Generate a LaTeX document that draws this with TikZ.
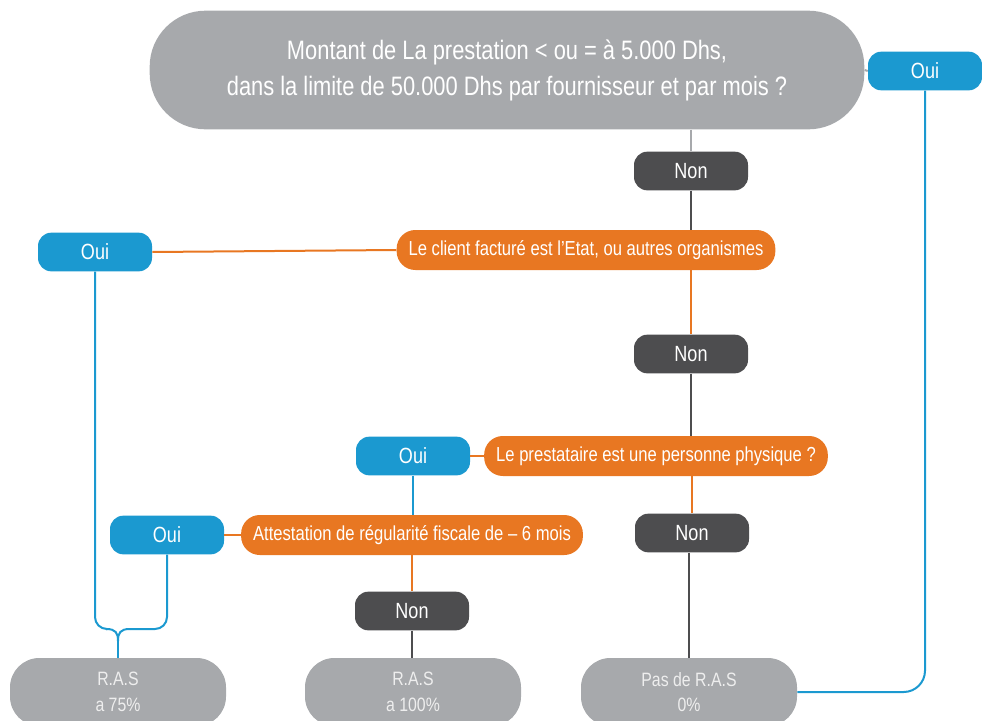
\documentclass[tikz,border=0pt]{standalone}
\usepackage{fontspec}
\setmainfont{Liberation Sans}[FakeStretch=0.82]
\usetikzlibrary{calc}

\definecolor{boxgray}{RGB}{167,169,172}
\definecolor{boxdark}{RGB}{77,77,79}
\definecolor{boxorange}{RGB}{232,119,34}
\definecolor{boxblue}{RGB}{27,153,208}
\definecolor{txtlight}{RGB}{238,238,238}

\tikzset{
  question/.style={fill=boxgray, text=white, rounded corners=42pt, minimum width=536pt, minimum height=89pt, align=center, font=\fontsize{20}{27}\selectfont},
  yesbox/.style={fill=boxblue, text=white, rounded corners=10pt, minimum width=85.5pt, minimum height=29pt, inner sep=0pt, font=\fontsize{16.5}{18}\selectfont},
  nobox/.style={yesbox, fill=boxdark},
  testbox/.style={fill=boxorange, text=white, rounded corners=14pt, minimum height=30pt, inner xsep=9pt, font=\fontsize{15.2}{17}\selectfont},
  result/.style={fill=boxgray, text=txtlight, rounded corners=22pt, minimum width=162pt, minimum height=51pt, align=center, font=\fontsize{14.5}{19}\selectfont},
  grayline/.style={draw=boxgray, line width=1.5pt},
  darkline/.style={draw=boxdark, line width=1.5pt},
  orangeline/.style={draw=boxorange, line width=1.5pt},
  blueline/.style={draw=boxblue, line width=1.5pt}
}

\begin{document}
\begin{tikzpicture}[x=0.75pt,y=0.75pt,yscale=-1,xscale=1]
\useasboundingbox (0,0) rectangle (982,721);

%Shape: Rounded Rect [id:question]
\node[question] (top) at (507,70) {Montant de La prestation < ou = à 5.000 Dhs,\\dans la limite de 50.000 Dhs par fournisseur et par mois ?};
\node[yesbox] (ouitop) at (925,71) {Oui};

% first test
\node[nobox] (non1) at (691,171) {Non};
\node[testbox] (etat) at (586,250) {Le client facturé est l’Etat, ou autres organismes};
\node[yesbox] (ouietat) at (95,252) {Oui};

% second test
\node[nobox] (non2) at (691,354) {Non};
\node[testbox] (physique) at (656,456) {Le prestataire est une personne physique ?};
\node[yesbox] (ouiphys) at (413,456) {Oui};
\node[nobox] (non3) at (692,533) {Non};

% third test
\node[testbox] (attest) at (412,535) {Attestation de régularité fiscale de – 6 mois};
\node[yesbox] (ouiatt) at (167,535) {Oui};
\node[nobox] (non4) at (412,611) {Non};

%Shape: Results
\node[result] (ras75) at (118,692) {R.A.S\\a 75\%};
\node[result] (ras100) at (413,692) {R.A.S\\a 100\%};
\node[result] (pasras) at (689,692) {Pas de R.A.S\\0\%};

% connectors
\draw[grayline] (top.east) -- (ouitop.west);
\draw[grayline] (non1.north |- top.south) -- (non1.north);
\draw[darkline] (non1.south) -- (non1.south |- etat.north);
\draw[orangeline] (etat.west) -- (ouietat.east);
\draw[orangeline] (non2.north |- etat.south) -- (non2.north);
\draw[darkline] (non2.south) -- (non2.south |- physique.north);
\draw[orangeline] (physique.west) -- (ouiphys.east);
\draw[orangeline] (non3.north |- physique.south) -- (non3.north);
\draw[darkline] (pasras.north |- non3.south) -- (pasras.north);
\draw[blueline] (ouiphys.south) -- (ouiphys.south |- attest.north);
\draw[orangeline] (attest.west) -- (ouiatt.east);
\draw[orangeline] (attest.south) -- (non4.north);
\draw[darkline] (non4.south) -- (non4.south |- ras100.north);
\draw[blueline, rounded corners=16pt] (ouitop.south) |- (pasras.east);

%Brace
\coordinate (brace) at (118,641);
\draw[blueline, rounded corners=9pt] (ouietat.south) |- ($(brace)+(-12,-12)$);
\draw[blueline] ($(brace)+(-12,-12)$) .. controls ($(brace)+(-2,-12)$) and ($(brace)+(0,-8)$) .. (brace);
\draw[blueline, rounded corners=9pt] (ouiatt.south) |- ($(brace)+(12,-12)$);
\draw[blueline] ($(brace)+(12,-12)$) .. controls ($(brace)+(2,-12)$) and ($(brace)+(0,-8)$) .. (brace);
\draw[blueline] (brace) -- (ras75.north);

\end{tikzpicture}
\end{document}
